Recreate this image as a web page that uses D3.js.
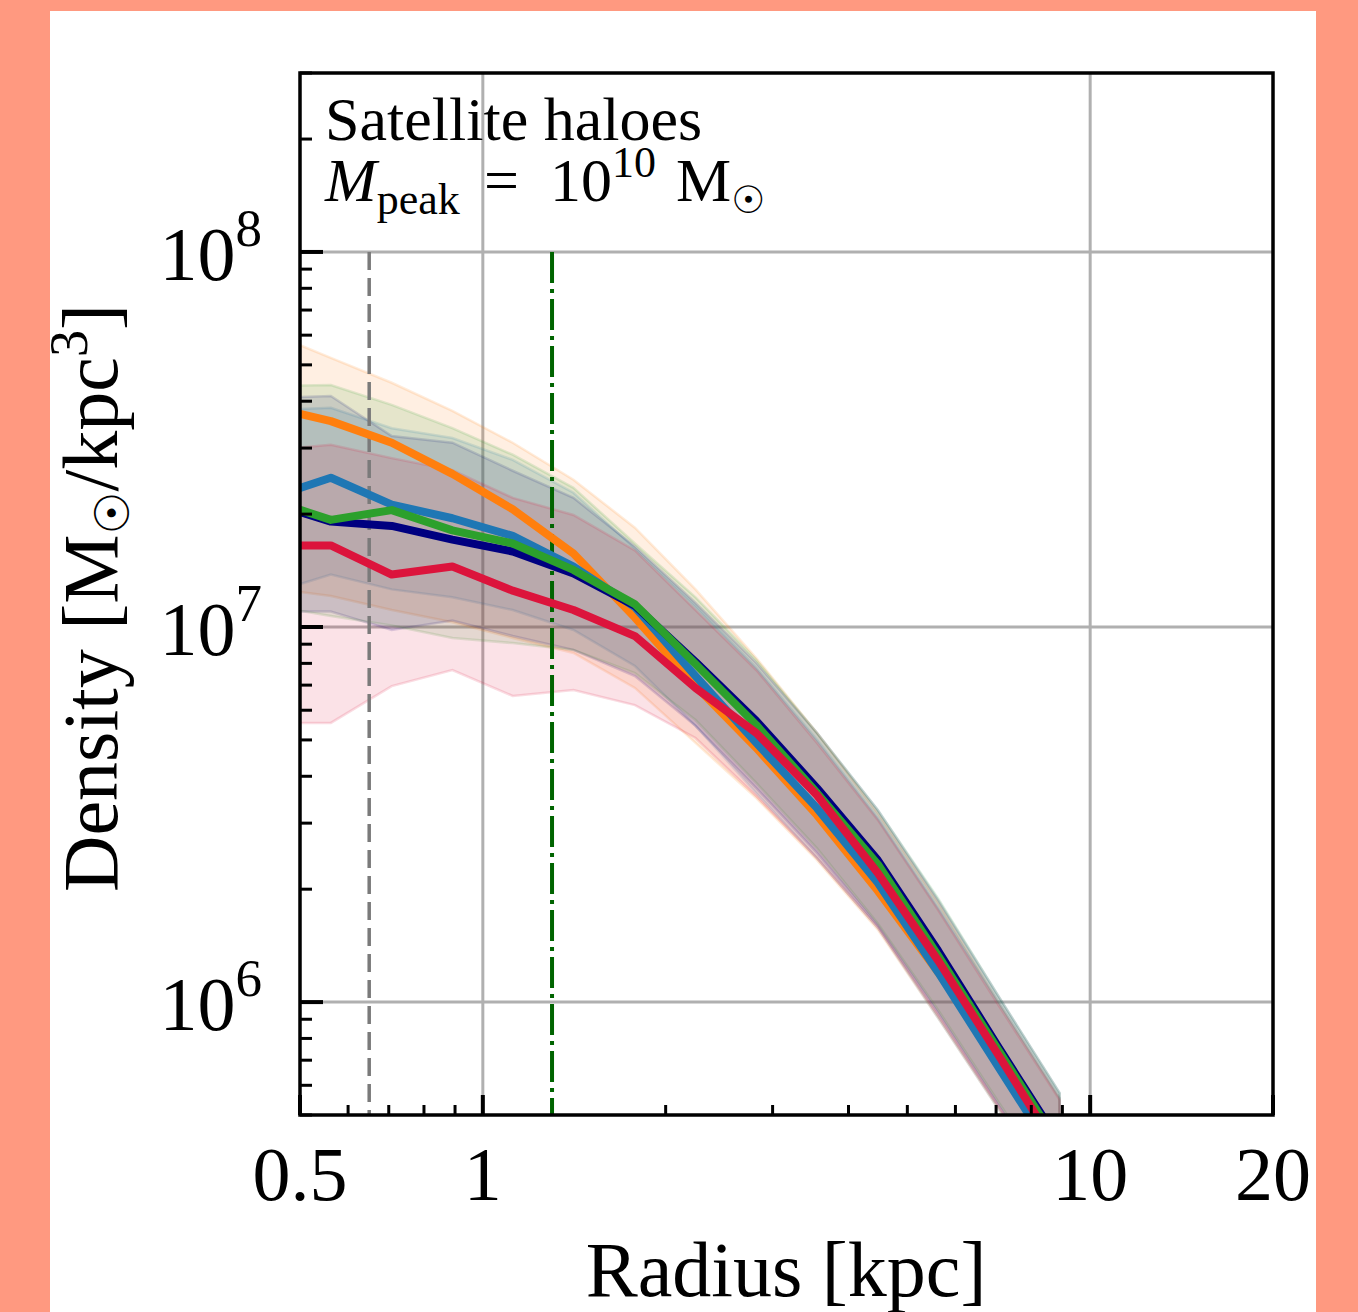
<!DOCTYPE html>
<html>
<head>
<meta charset="utf-8">
<script src="https://cdn.jsdelivr.net/npm/d3@7"></script>
<style>
  html, body { margin: 0; padding: 0; background: #ff9980; }
  svg { display: block; }
  text { font-family: "Liberation Serif", "Times New Roman", serif; fill: #000; }
  .sym { font-family: "DejaVu Sans", sans-serif; }
</style>
</head>
<body>
<div id="viz"></div>
<script>
// radial bins (kpc)
radius = [0.447, 0.562, 0.708, 0.891, 1.12, 1.41, 1.78, 2.24, 2.82, 3.55, 4.47, 5.62, 7.08, 8.91];

// median density profiles (Msun / kpc^3)
orangeMed = [3.86e7, 3.54e7, 3.10e7, 2.56e7, 2.06e7, 1.57e7, 1.06e7, 6.96e6, 4.76e6, 3.15e6, 1.98e6, 1.20e6, 7.18e5, 4.21e5];
blueMed   = [2.21e7, 2.50e7, 2.12e7, 1.95e7, 1.75e7, 1.45e7, 1.13e7, 7.40e6, 4.91e6, 3.29e6, 2.08e6, 1.20e6, 6.67e5, 3.72e5];
navyMed   = [2.14e7, 1.91e7, 1.86e7, 1.71e7, 1.59e7, 1.39e7, 1.14e7, 8.07e6, 5.62e6, 3.72e6, 2.39e6, 1.37e6, 7.54e5, 4.21e5];
greenMed  = [2.18e7, 1.93e7, 2.05e7, 1.81e7, 1.67e7, 1.42e7, 1.15e7, 7.97e6, 5.48e6, 3.61e6, 2.33e6, 1.33e6, 7.40e5, 4.13e5];
redMed    = [1.65e7, 1.65e7, 1.38e7, 1.45e7, 1.25e7, 1.11e7, 9.46e6, 6.88e6, 5.22e6, 3.56e6, 2.21e6, 1.29e6, 7.18e5, 3.96e5];

// scatter bands (upper / lower)
orangeHi = [6.08e7, 5.22e7, 4.48e7, 3.77e7, 3.10e7, 2.47e7, 1.84e7, 1.26e7, 8.27e6, 5.22e6, 3.19e6, 1.84e6, 9.94e5, 5.55e5];
orangeLo = [1.27e7, 1.21e7, 1.11e7, 1.03e7, 9.35e6, 8.53e6, 6.88e6, 4.91e6, 3.50e6, 2.39e6, 1.56e6, 9.06e5, 5.15e5, 2.91e5];
blueHi   = [3.79e7, 3.84e7, 3.39e7, 3.19e7, 2.79e7, 2.28e7, 1.62e7, 1.14e7, 7.78e6, 5.00e6, 3.09e6, 1.78e6, 9.94e5, 5.55e5];
blueLo   = [1.23e7, 1.38e7, 1.26e7, 1.20e7, 1.11e7, 9.82e6, 7.87e6, 5.45e6, 3.61e6, 2.42e6, 1.58e6, 9.06e5, 5.15e5, 2.91e5];
navyHi   = [4.08e7, 4.13e7, 3.23e7, 3.10e7, 2.61e7, 2.21e7, 1.64e7, 1.16e7, 8.02e6, 5.22e6, 3.25e6, 1.87e6, 1.03e6, 5.72e5];
navyLo   = [1.10e7, 1.10e7, 9.82e6, 1.04e7, 9.46e6, 8.69e6, 7.40e6, 5.45e6, 3.72e6, 2.50e6, 1.60e6, 9.35e5, 5.28e5, 3.00e5];
greenHi  = [4.39e7, 4.42e7, 3.91e7, 3.39e7, 2.88e7, 2.35e7, 1.67e7, 1.20e7, 8.17e6, 5.22e6, 3.25e6, 1.89e6, 1.03e6, 5.72e5];
greenLo  = [1.14e7, 1.07e7, 1.01e7, 9.35e6, 9.06e6, 8.69e6, 7.54e6, 5.65e6, 3.84e6, 2.57e6, 1.62e6, 9.52e5, 5.38e5, 3.09e5];
redHi    = [2.96e7, 3.06e7, 2.82e7, 2.62e7, 2.21e7, 1.99e7, 1.60e7, 1.11e7, 7.68e6, 4.91e6, 3.06e6, 1.76e6, 9.76e5, 5.48e5];
redLo    = [5.55e6, 5.55e6, 6.96e6, 7.68e6, 6.55e6, 6.79e6, 6.19e6, 5.06e6, 3.54e6, 2.42e6, 1.58e6, 9.18e5, 5.22e5, 2.96e5];

// reference radii (kpc)
convRadius = 0.65;
softRadius = 1.3;

xTickLabels = ['0.5', '1', '10', '20'];
xTickValues = [0.5, 1, 10, 20];
yTickExps = [6, 7, 8];

series = [
	{ name: 'orange', color: '#ff7f0e', med: orangeMed, hi: orangeHi, lo: orangeLo },
	{ name: 'blue',   color: '#1f77b4', med: blueMed,   hi: blueHi,   lo: blueLo },
	{ name: 'navy',   color: '#000080', med: navyMed,   hi: navyHi,   lo: navyLo },
	{ name: 'green',  color: '#2ca02c', med: greenMed,  hi: greenHi,  lo: greenLo },
	{ name: 'red',    color: '#dc143c', med: redMed,    hi: redHi,    lo: redLo }
];

W = 1358;
H = 1312;
plot = { left: 300, right: 1273, top: 73, bottom: 1115 };

x = d3.scaleLog().domain([0.5, 20]).range([plot.left, plot.right]);
y = d3.scaleLog().domain([5e5, 3e8]).range([plot.bottom, plot.top]);

svg = d3.select('#viz').append('svg')
	.attr('width', W)
	.attr('height', H);

// white panel on salmon page
svg.append('rect').attr('x', 0).attr('y', 0).attr('width', W).attr('height', H).attr('fill', '#ff9980');
svg.append('rect').attr('x', 50).attr('y', 11).attr('width', 1266).attr('height', H - 11).attr('fill', '#fff');

svg.append('clipPath').attr('id', 'clip')
	.append('rect')
	.attr('x', plot.left).attr('y', plot.top)
	.attr('width', plot.right - plot.left)
	.attr('height', plot.bottom - plot.top);

// grid
grid = svg.append('g').attr('stroke', '#b0b0b0').attr('stroke-width', 3);
grid.selectAll('line.gx')
	.data([1, 10])
	.enter().append('line')
	.attr('x1', d => x(d)).attr('x2', d => x(d))
	.attr('y1', plot.top).attr('y2', plot.bottom);
grid.selectAll('line.gy')
	.data(yTickExps.map(e => Math.pow(10, e)))
	.enter().append('line')
	.attr('x1', plot.left).attr('x2', plot.right)
	.attr('y1', d => y(d)).attr('y2', d => y(d));

data = series.map(function(s){
	return {
		name: s.name,
		color: s.color,
		pts: radius.map(function(r, i){
			return { r: r, med: s.med[i], hi: s.hi[i], lo: s.lo[i] };
		})
	};
});

area = d3.area()
	.x(d => x(d.r))
	.y0(d => y(d.lo))
	.y1(d => y(d.hi));

line = d3.line()
	.x(d => x(d.r))
	.y(d => y(d.med));

plotG = svg.append('g').attr('clip-path', 'url(#clip)');

// bands
plotG.selectAll('path.band')
	.data(data)
	.enter().append('path')
	.attr('class', 'band')
	.attr('d', d => area(d.pts))
	.attr('fill', d => d.color)
	.attr('fill-opacity', 0.12)
	.attr('stroke', d => d.color)
	.attr('stroke-opacity', 0.15)
	.attr('stroke-width', 2.5);

// vertical reference lines
plotG.append('line')
	.attr('x1', x(convRadius)).attr('x2', x(convRadius))
	.attr('y1', y(1e8)).attr('y2', plot.bottom)
	.attr('stroke', '#7a7a7a')
	.attr('stroke-width', 3.5)
	.attr('stroke-dasharray', '18,8');

plotG.append('line')
	.attr('x1', x(softRadius)).attr('x2', x(softRadius))
	.attr('y1', y(1e8)).attr('y2', plot.bottom)
	.attr('stroke', '#006400')
	.attr('stroke-width', 4)
	.attr('stroke-dasharray', '31,6,4,6');

// median lines
plotG.selectAll('path.med')
	.data(data)
	.enter().append('path')
	.attr('class', 'med')
	.attr('d', d => line(d.pts))
	.attr('fill', 'none')
	.attr('stroke', d => d.color)
	.attr('stroke-width', 8)
	.attr('stroke-linejoin', 'round');

// ticks (inward)
xMinor = x.ticks().filter(v => xTickValues.indexOf(v) < 0 && v > 0.5 && v < 20);
yAll = y.ticks();
yMinor = yAll.filter(v => yTickExps.map(e => Math.pow(10, e)).indexOf(v) < 0);

ticks = svg.append('g').attr('stroke', '#000');
ticks.selectAll('line.xmin')
	.data(xMinor)
	.enter().append('line')
	.attr('x1', d => x(d)).attr('x2', d => x(d))
	.attr('y1', plot.bottom).attr('y2', plot.bottom - 10)
	.attr('stroke-width', 3);
ticks.selectAll('line.xmaj')
	.data(xTickValues)
	.enter().append('line')
	.attr('x1', d => x(d)).attr('x2', d => x(d))
	.attr('y1', plot.bottom).attr('y2', plot.bottom - 20)
	.attr('stroke-width', 4);
ticks.selectAll('line.ymin')
	.data(yMinor)
	.enter().append('line')
	.attr('x1', plot.left).attr('x2', plot.left + 12)
	.attr('y1', d => y(d)).attr('y2', d => y(d))
	.attr('stroke-width', 3);
ticks.selectAll('line.ymaj')
	.data(yTickExps)
	.enter().append('line')
	.attr('x1', plot.left).attr('x2', plot.left + 23)
	.attr('y1', d => y(Math.pow(10, d))).attr('y2', d => y(Math.pow(10, d)))
	.attr('stroke-width', 4);

// frame
svg.append('rect')
	.attr('x', plot.left).attr('y', plot.top)
	.attr('width', plot.right - plot.left)
	.attr('height', plot.bottom - plot.top)
	.attr('fill', 'none')
	.attr('stroke', '#000')
	.attr('stroke-width', 3.5);

// x tick labels
svg.selectAll('text.xl')
	.data(xTickValues)
	.enter().append('text')
	.attr('class', 'xl')
	.attr('x', d => x(d))
	.attr('y', 1200)
	.attr('text-anchor', 'middle')
	.attr('font-size', 76)
	.text((d, i) => xTickLabels[i]);

// y tick labels 10^n
yl = svg.selectAll('text.yl')
	.data(yTickExps)
	.enter().append('text')
	.attr('class', 'yl')
	.attr('x', 262)
	.attr('y', d => y(Math.pow(10, d)) + 28)
	.attr('text-anchor', 'end')
	.attr('font-size', 76);
yl.append('tspan').text('10');
yl.append('tspan').attr('dy', -34).attr('font-size', 53).text(d => d);

// axis titles
svg.append('text')
	.attr('x', 786)
	.attr('y', 1296)
	.attr('text-anchor', 'middle')
	.attr('font-size', 78)
	.text('Radius [kpc]');

ylab = svg.append('text')
	.attr('transform', 'translate(117,598) rotate(-90)')
	.attr('text-anchor', 'middle')
	.attr('font-size', 78);
ylab.append('tspan').text('Density [M');
ylab.append('tspan').attr('class', 'sym').attr('dy', 12).attr('font-size', 48).text('\u2609');
ylab.append('tspan').attr('dy', -12).text('/kpc');
ylab.append('tspan').attr('dy', -30).attr('font-size', 54).text('3');
ylab.append('tspan').attr('dy', 30).text(']');

// annotation
svg.append('text')
	.attr('x', 325)
	.attr('y', 140)
	.attr('font-size', 62)
	.text('Satellite haloes');

ann = svg.append('text')
	.attr('x', 325)
	.attr('y', 201)
	.attr('font-size', 62);
ann.append('tspan').attr('font-style', 'italic').text('M');
ann.append('tspan').attr('dy', 13).attr('font-size', 44).text('peak');
ann.append('tspan').attr('dy', -13).attr('x', 484).text('=');
ann.append('tspan').attr('x', 550).text('10');
ann.append('tspan').attr('dy', -24).attr('font-size', 44).text('10');
ann.append('tspan').attr('dy', 24).attr('x', 676).text('M');
ann.append('tspan').attr('class', 'sym').attr('dy', 12).attr('font-size', 38).text('\u2609');
</script>
</body>
</html>
